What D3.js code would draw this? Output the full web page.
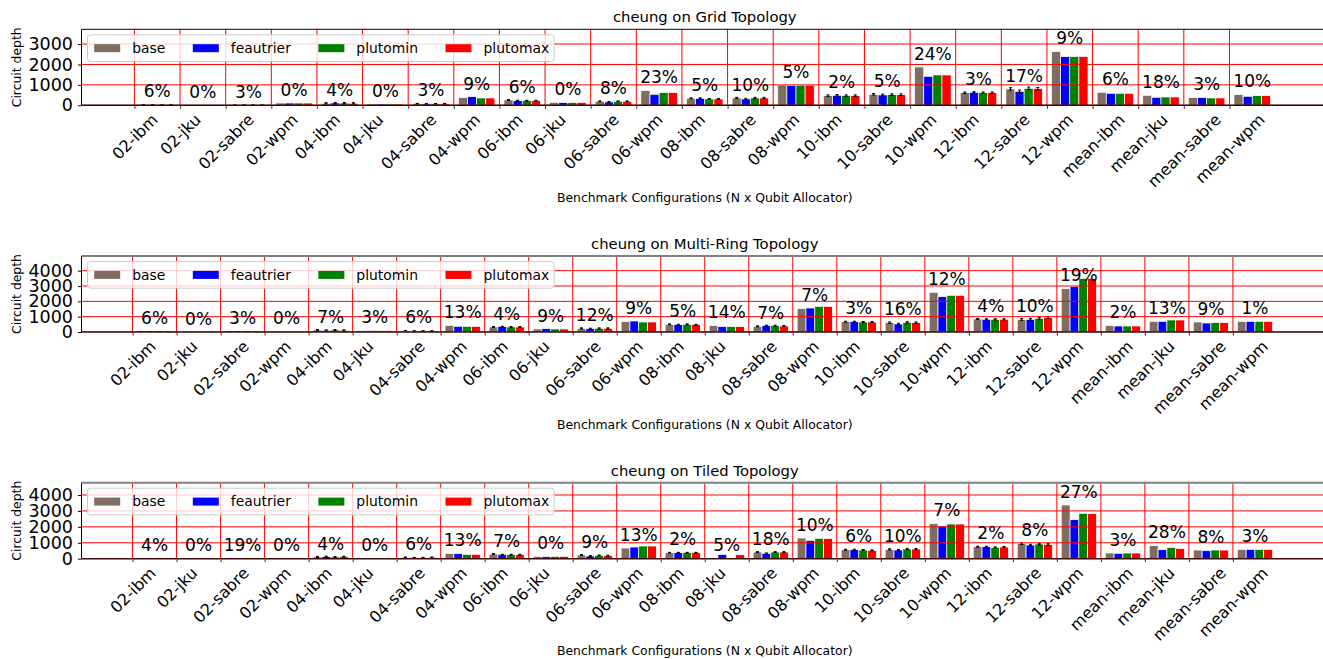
<!DOCTYPE html>
<html>
<head>
<meta charset="utf-8">
<script src="https://cdn.jsdelivr.net/npm/d3@7"></script>
<style>
  body { margin: 0; background: #fff; }
  text { font-family: "DejaVu Sans", sans-serif; fill: #000; }
</style>
</head>
<body>
<svg id="chart" width="1323" height="659"></svg>
<script>
// ---- data ----
const series = ["base", "feautrier", "plutomin", "plutomax"];

const gridCats = ["02-ibm", "02-jku", "02-sabre", "02-wpm", "04-ibm", "04-jku", "04-sabre", "04-wpm",
  "06-ibm", "06-jku", "06-sabre", "06-wpm", "08-ibm", "08-sabre", "08-wpm", "10-ibm", "10-sabre", "10-wpm",
  "12-ibm", "12-sabre", "12-wpm", "mean-ibm", "mean-jku", "mean-sabre", "mean-wpm"];
const gridBase      = [25, 10, 16, 114, 100, 65, 80, 375, 261, 147, 196, 718, 343, 359, 990, 473, 539, 1877, 620, 800, 2628, 636, 490, 375, 522];
const gridFeautrier = [24, 10, 15, 112, 115, 64, 72, 424, 228, 131, 163, 539, 343, 310, 975, 490, 506, 1420, 636, 685, 2383, 588, 392, 375, 441];
const gridPlutomin  = [24, 10, 16, 112, 110, 64, 78, 359, 228, 131, 196, 620, 310, 359, 980, 473, 522, 1485, 620, 832, 2383, 588, 408, 359, 473];
const gridPlutomax  = [24, 10, 16, 112, 100, 64, 78, 359, 228, 131, 196, 620, 310, 359, 980, 473, 522, 1485, 620, 816, 2383, 588, 408, 359, 473];
const gridErr       = [4, 0, 3, 0, 30, 0, 12, 0, 20, 0, 18, 0, 22, 30, 0, 35, 40, 0, 30, 60, 0, 0, 0, 0, 0];
const gridPct = ["6%", "0%", "3%", "0%", "4%", "0%", "3%", "9%", "6%", "0%", "8%", "23%", "5%", "10%", "5%", "2%",
  "5%", "24%", "3%", "17%", "9%", "6%", "18%", "3%", "10%"];
const gridTicks = [0, 1000, 2000, 3000];

const ringCats = ["02-ibm", "02-jku", "02-sabre", "02-wpm", "04-ibm", "04-jku", "04-sabre", "04-wpm",
  "06-ibm", "06-jku", "06-sabre", "06-wpm", "08-ibm", "08-jku", "08-sabre", "08-wpm", "10-ibm", "10-sabre",
  "10-wpm", "12-ibm", "12-sabre", "12-wpm", "mean-ibm", "mean-jku", "mean-sabre", "mean-wpm"];
const ringBase      = [20, 10, 15, 30, 130, 87, 87, 435, 326, 196, 239, 674, 500, 413, 370, 1522, 674, 609, 2587, 848, 826, 2826, 413, 696, 652, 696];
const ringFeautrier = [19, 10, 15, 30, 109, 85, 65, 370, 348, 217, 217, 717, 478, 348, 413, 1565, 674, 522, 2304, 826, 826, 2978, 391, 696, 587, 696];
const ringPlutomin  = [19, 10, 15, 30, 130, 85, 70, 370, 326, 196, 239, 652, 500, 348, 413, 1674, 652, 630, 2391, 826, 891, 3500, 391, 783, 609, 696];
const ringPlutomax  = [19, 10, 15, 30, 109, 85, 70, 370, 326, 196, 239, 652, 478, 348, 391, 1674, 652, 609, 2391, 826, 935, 3500, 391, 783, 609, 696];
const ringErr       = [3, 0, 2, 0, 30, 0, 15, 0, 25, 0, 30, 0, 25, 0, 30, 0, 30, 45, 0, 35, 60, 0, 0, 0, 0, 0];
const ringPct = ["6%", "0%", "3%", "0%", "7%", "3%", "6%", "13%", "4%", "9%", "12%", "9%", "5%", "14%", "7%", "7%",
  "3%", "16%", "12%", "4%", "10%", "19%", "2%", "13%", "9%", "1%"];
const ringTicks = [0, 1000, 2000, 3000, 4000];

const tiledCats = ringCats;
const tiledBase      = [15, 10, 16, 15, 105, 42, 84, 335, 293, 147, 230, 670, 377, 0, 419, 1298, 565, 586, 2199, 754, 942, 3371, 356, 817, 544, 586];
const tiledFeautrier = [14, 10, 13, 15, 126, 42, 63, 314, 251, 126, 168, 733, 377, 272, 335, 1152, 565, 544, 2052, 754, 859, 2450, 335, 565, 503, 586];
const tiledPlutomin  = [15, 10, 14, 15, 105, 42, 63, 272, 251, 147, 209, 796, 377, 0, 419, 1277, 544, 607, 2178, 712, 921, 2848, 356, 712, 544, 586];
const tiledPlutomax  = [15, 10, 14, 15, 126, 42, 84, 272, 251, 147, 188, 796, 377, 251, 419, 1277, 524, 607, 2178, 733, 900, 2827, 356, 649, 544, 586];
const tiledErr       = [3, 0, 3, 0, 30, 0, 20, 0, 25, 0, 25, 0, 20, 0, 25, 0, 30, 35, 0, 30, 45, 0, 0, 0, 0, 0];
const tiledPct = ["4%", "0%", "19%", "0%", "4%", "0%", "6%", "13%", "7%", "0%", "9%", "13%", "2%", "5%", "18%", "10%",
  "6%", "10%", "7%", "2%", "8%", "27%", "3%", "28%", "8%", "3%"];
const tiledTicks = [0, 1000, 2000, 3000, 4000];

// ---- layout ----
const colors = ["#7f6d5f", "#0000ff", "#008000", "#ff0000"];
const left = 81.5, right = 1328, plotH = 76;

const panels = [
  { title: "cheung on Grid Topology", cats: gridCats, values: [gridBase, gridFeautrier, gridPlutomin, gridPlutomax],
    err: gridErr, pct: gridPct, ticks: gridTicks, top: 29.3, topSpine: "#000" },
  { title: "cheung on Multi-Ring Topology", cats: ringCats, values: [ringBase, ringFeautrier, ringPlutomin, ringPlutomax],
    err: ringErr, pct: ringPct, ticks: ringTicks, top: 256, topSpine: "#808080" },
  { title: "cheung on Tiled Topology", cats: tiledCats, values: [tiledBase, tiledFeautrier, tiledPlutomin, tiledPlutomax],
    err: tiledErr, pct: tiledPct, ticks: tiledTicks, top: 482.7, topSpine: "#808080" }
];

const svg = d3.select("#chart");

panels.forEach(p => {
  const n = p.cats.length;
  const bottom = p.top + plotH;
  const x = d3.scaleLinear().domain([-1.16, n + 1.16]).range([left, right]);
  const ymax = d3.max(p.values.flat()) * 1.416;
  const y = d3.scaleLinear().domain([0, ymax]).range([bottom, p.top]);
  const bw = x(0.2) - x(0);

  const g = svg.append("g");
  const clip = "clip" + Math.round(p.top);
  g.append("clipPath").attr("id", clip).append("rect")
    .attr("x", left).attr("y", p.top).attr("width", right - left).attr("height", plotH);
  const plot = g.append("g").attr("clip-path", `url(#${clip})`);

  // bars
  p.values.forEach((vals, k) => {
    plot.append("g").selectAll("rect").data(vals).join("rect")
      .attr("x", (d, i) => x(i + 0.1 + 0.2 * k))
      .attr("width", bw)
      .attr("y", d => y(d))
      .attr("height", d => y(0) - y(d))
      .attr("fill", colors[k])
      .attr("stroke", "#fff")
      .attr("stroke-width", 0.7);
  });

  // error bars
  p.values.forEach((vals, k) => {
    const eg = plot.append("g").attr("stroke", "#000").attr("stroke-width", 1);
    vals.forEach((v, i) => {
      const e = p.err[i];
      if (!e || !v) return;
      const cx = x(i + 0.2 + 0.2 * k);
      eg.append("line").attr("x1", cx).attr("x2", cx).attr("y1", y(v - e)).attr("y2", y(v + e));
      eg.append("line").attr("x1", cx - 1.5).attr("x2", cx + 1.5).attr("y1", y(v + e)).attr("y2", y(v + e));
      eg.append("line").attr("x1", cx - 1.5).attr("x2", cx + 1.5).attr("y1", y(v - e)).attr("y2", y(v - e));
    });
  });

  // grid
  plot.append("g").selectAll("line").data(d3.range(n)).join("line")
    .attr("x1", i => x(i)).attr("x2", i => x(i))
    .attr("y1", p.top).attr("y2", bottom)
    .attr("stroke", "red").attr("stroke-width", 1);
  plot.append("g").selectAll("line").data(p.ticks).join("line")
    .attr("x1", left).attr("x2", right)
    .attr("y1", d => y(d)).attr("y2", d => y(d))
    .attr("stroke", "red").attr("stroke-width", 1);

  // spines
  g.append("line").attr("x1", left).attr("x2", left).attr("y1", p.top).attr("y2", bottom)
    .attr("stroke", "#000").attr("stroke-width", 1);
  g.append("line").attr("x1", left).attr("x2", right).attr("y1", p.top).attr("y2", p.top)
    .attr("stroke", p.topSpine).attr("stroke-width", p.topSpine === "#000" ? 1 : 2);
  g.append("line").attr("x1", left).attr("x2", right).attr("y1", bottom).attr("y2", bottom)
    .attr("stroke", "#3a0a0a").attr("stroke-width", 1.5);

  // y axis
  const ya = g.append("g").attr("transform", `translate(${left},0)`)
    .call(d3.axisLeft(y).tickValues(p.ticks).tickSize(3.5).tickPadding(5).tickFormat(d3.format("d")));
  ya.select(".domain").remove();
  ya.selectAll("text").style("font-size", "17.5px").style("font-family", "DejaVu Sans");

  // x axis
  const xa = g.append("g").attr("transform", `translate(0,${bottom})`)
    .call(d3.axisBottom(x).tickValues(d3.range(n)).tickSize(3.5).tickFormat(i => p.cats[i]));
  xa.select(".domain").remove();
  xa.selectAll("line").attr("stroke", "#333");
  xa.selectAll("text")
    .style("font-size", "16px").style("font-family", "DejaVu Sans")
    .attr("y", null).attr("dy", null)
    .attr("text-anchor", "middle")
    .attr("dominant-baseline", "central")
    .attr("transform", function () {
      const w = this.getComputedTextLength();
      return `translate(0,${11.5 + 0.354 * w}) rotate(-45)`;
    });

  // percentage labels, placed over the base bar
  g.append("g").selectAll("text").data(p.pct).join("text")
    .attr("x", (d, i) => x(i + 0.5))
    .attr("y", (d, i) => y(p.values[0][i]) - 7.3)
    .attr("text-anchor", "middle")
    .style("font-size", "17px")
    .text(d => d);

  // titles
  g.append("text").attr("x", (left + right) / 2).attr("y", p.top - 7)
    .attr("text-anchor", "middle").style("font-size", "14.8px").text(p.title);
  g.append("text").attr("x", (left + right) / 2).attr("y", bottom + 96.5)
    .attr("text-anchor", "middle").style("font-size", "12.4px")
    .text("Benchmark Configurations (N x Qubit Allocator)");
  g.append("text").attr("transform", `translate(21,${p.top + plotH / 2}) rotate(-90)`)
    .attr("text-anchor", "middle").style("font-size", "12.4px").text("Circuit depth");

  // legend
  const lg = g.append("g").attr("transform", `translate(${left + 6},${p.top + 5.5})`);
  const box = lg.append("rect").attr("rx", 3).attr("height", 26.7)
    .attr("fill", "#fff").attr("fill-opacity", 0.8).attr("stroke", "#ccc").attr("stroke-width", 1);
  let cx = 6.7;
  series.forEach((s, k) => {
    lg.append("rect").attr("x", cx).attr("y", 9.4).attr("width", 26).attr("height", 8).attr("fill", colors[k]);
    const t = lg.append("text").attr("x", cx + 38).attr("y", 18.3).style("font-size", "13.9px").text(s);
    const w = t.node().getComputedTextLength();
    cx += 38 + w + (k < series.length - 1 ? 27.5 : 0);
  });
  box.attr("width", cx + 5);
});
</script>
</body>
</html>
